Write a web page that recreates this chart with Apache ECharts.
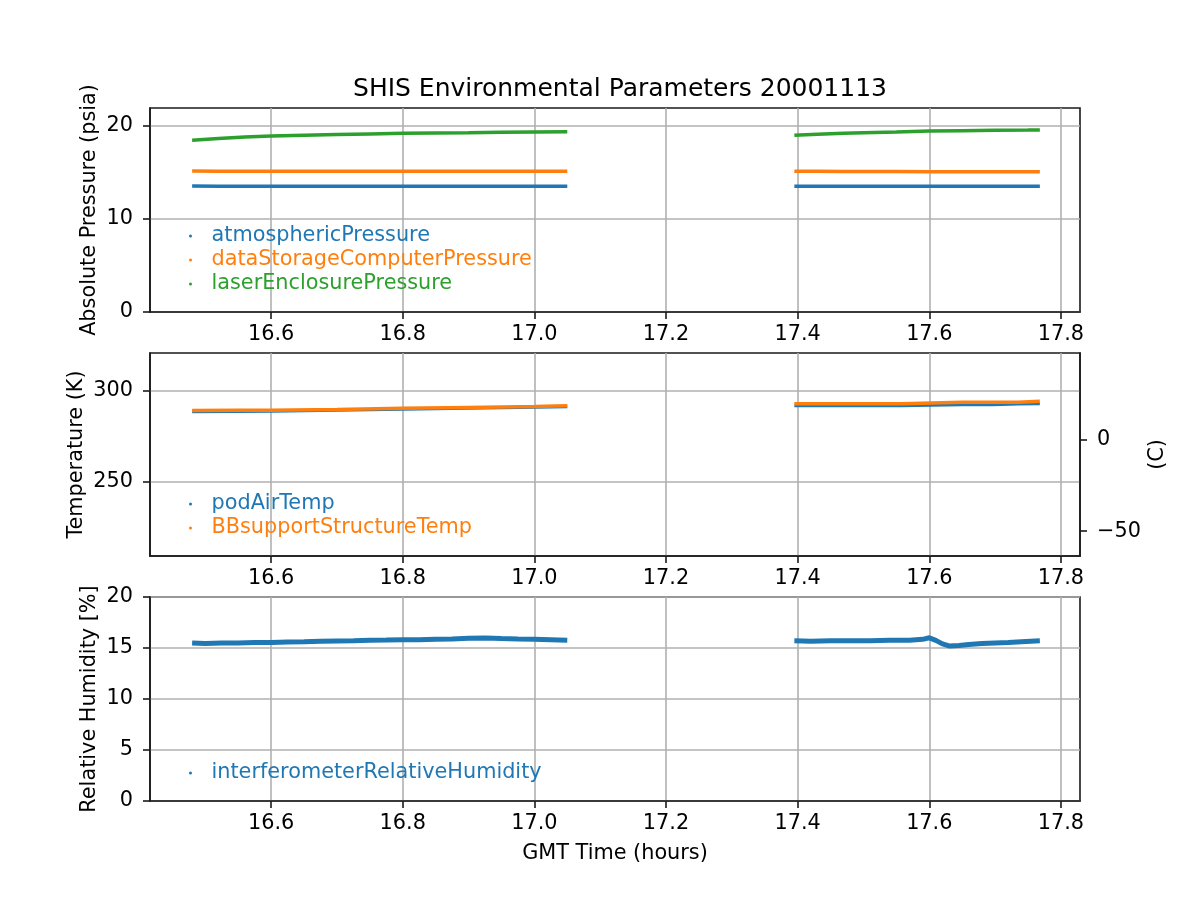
<!DOCTYPE html>
<html>
<head>
<meta charset="utf-8">
<script src="https://cdn.jsdelivr.net/npm/echarts@6/dist/echarts.min.js"></script>
<style>html,body{margin:0;padding:0;background:#fff;}#c{width:1200px;height:900px;}</style>
</head>
<body>
<div id="c"></div>
<script>
// ---- data ----
const xTicks = [16.6, 16.8, 17.0, 17.2, 17.4, 17.6, 17.8];
const pressureTicks = [0, 10, 20];
const tempTicksK = [250, 300];
const tempTicksC = [-50, 0];
const humidityTicks = [0, 5, 10, 15, 20];

const pTime1 = [16.48, 16.52, 16.56, 16.6, 16.65, 16.7, 16.75, 16.8, 16.85, 16.9, 16.95, 17.0, 17.05];
const atmospheric1 = [13.52, 13.5, 13.5, 13.5, 13.5, 13.5, 13.5, 13.5, 13.5, 13.5, 13.5, 13.5, 13.5];
const dataStorage1 = [15.15, 15.12, 15.1, 15.1, 15.1, 15.1, 15.1, 15.1, 15.1, 15.1, 15.1, 15.1, 15.1];
const laser1 = [18.45, 18.62, 18.78, 18.9, 18.98, 19.05, 19.12, 19.18, 19.22, 19.25, 19.29, 19.32, 19.35];
const pTime2 = [17.395, 17.43, 17.47, 17.5, 17.55, 17.6, 17.65, 17.7, 17.75, 17.768];
const atmospheric2 = [13.5, 13.5, 13.5, 13.5, 13.5, 13.5, 13.5, 13.5, 13.5, 13.5];
const dataStorage2 = [15.1, 15.1, 15.08, 15.08, 15.08, 15.05, 15.05, 15.05, 15.05, 15.05];
const laser2 = [18.97, 19.08, 19.18, 19.25, 19.33, 19.43, 19.47, 19.5, 19.53, 19.55];

const tTime1 = [16.48, 16.55, 16.6, 16.7, 16.8, 16.9, 17.0, 17.05];
const podAir1 = [288.4, 288.5, 288.6, 289.2, 289.7, 290.3, 290.8, 291.0];
const bbSupport1 = [289.0, 289.1, 289.1, 289.6, 290.2, 290.7, 291.2, 291.6];
const tTime2 = [17.395, 17.5, 17.557, 17.558, 17.65, 17.696, 17.697, 17.735, 17.736, 17.768];
const podAir2 = [291.6, 291.6, 291.6, 292.2, 292.2, 292.2, 292.5, 292.5, 292.7, 292.7];
const bbSupport2 = [292.7, 292.7, 292.7, 293.5, 293.5, 293.5, 293.5, 293.5, 294.0, 294.0];

const hTime1 = [16.48, 16.5, 16.525, 16.55, 16.575, 16.6, 16.625, 16.65, 16.675, 16.7, 16.725, 16.75, 16.775, 16.8, 16.825, 16.85, 16.875, 16.9, 16.925, 16.95, 16.975, 17.0, 17.025, 17.05];
const humidity1 = [15.5, 15.45, 15.5, 15.48, 15.55, 15.55, 15.6, 15.62, 15.65, 15.68, 15.7, 15.75, 15.78, 15.82, 15.8, 15.85, 15.88, 15.95, 15.98, 15.92, 15.88, 15.85, 15.8, 15.75];
const hTime2 = [17.395, 17.42, 17.45, 17.48, 17.51, 17.54, 17.57, 17.59, 17.6, 17.61, 17.62, 17.63, 17.645, 17.66, 17.68, 17.7, 17.72, 17.74, 17.768];
const humidity2 = [15.7, 15.65, 15.7, 15.72, 15.7, 15.75, 15.75, 15.85, 16.0, 15.75, 15.4, 15.2, 15.25, 15.35, 15.45, 15.5, 15.55, 15.62, 15.7];

// ---- chart ----
const FONT = 'DejaVu Sans';
const FS = 20.8;
const C1 = '#1f77b4', C2 = '#ff7f0e', C3 = '#2ca02c';
const zip = (a, b) => a.map((v, i) => [v, b[i]]);
const fmt = v => String(v).replace('-', '\u2212');
const xMin = 16.416, xMax = 17.829;
const AX = { color: '#1a1a1a', width: 1.6 };

function xAxis(grid, withName) {
  return {
    type: 'value', gridIndex: grid, min: xMin, max: xMax,
    axisLine: { show: true, onZero: false, lineStyle: AX },
    axisTick: { show: true, customValues: xTicks, length: 7, lineStyle: AX },
    axisLabel: { customValues: xTicks, formatter: v => v.toFixed(1), color: '#000', fontSize: FS, fontFamily: FONT, margin: 12 },
    splitLine: { show: true, customValues: xTicks, lineStyle: { color: '#b0b0b0', width: 1.6 } },
    name: withName ? 'GMT Time (hours)' : '',
    nameLocation: 'middle', nameGap: 42, nameMoveOverlap: false,
    nameTextStyle: { color: '#000', fontSize: FS, fontFamily: FONT }
  };
}
function yAxis(grid, min, max, ticks, name, gap, pos, showSplit) {
  return {
    type: 'value', gridIndex: grid, min: min, max: max, position: pos || 'left',
    axisLine: { show: true, onZero: false, lineStyle: AX },
    axisTick: { show: true, customValues: ticks, length: 7, lineStyle: AX },
    axisLabel: { customValues: ticks, formatter: fmt, color: '#000', fontSize: FS, fontFamily: FONT, margin: 17 },
    splitLine: { show: showSplit !== false, customValues: ticks, lineStyle: { color: '#b0b0b0', width: 1.6 } },
    name: name, nameLocation: 'middle', nameGap: gap, nameMoveOverlap: false,
    nameTextStyle: { color: '#000', fontSize: FS, fontFamily: FONT }
  };
}
function line(name, color, data, xi, yi, w) {
  return {
    type: 'line', name: name, xAxisIndex: xi, yAxisIndex: yi, data: data,
    showSymbol: false, symbol: 'circle', color: color, animation: false,
    lineStyle: { color: color, width: w }, silent: true
  };
}
function legend(names, colors, top) {
  return {
    orient: 'vertical', left: 184, top: top, icon: 'circle', itemWidth: 32, itemHeight: 3,
    itemGap: 0, symbolKeepAspect: true,
    textStyle: { fontSize: FS, fontFamily: FONT, lineHeight: 24 },
    data: names.map((n, i) => ({ name: n, textStyle: { color: colors[i] } }))
  };
}

const chart = echarts.init(document.getElementById('c'), null, { renderer: 'canvas' });
chart.setOption({
  backgroundColor: '#fff',
  animation: false,
  title: {
    text: 'SHIS Environmental Parameters 20001113', left: 615, top: 72, textAlign: 'center',
    textStyle: { fontSize: 25, fontWeight: 'normal', color: '#000', fontFamily: FONT }
  },
  grid: [
    { left: 150, right: 120, top: 108, height: 204, show: true, borderColor: '#1a1a1a', borderWidth: 1.6, backgroundColor: 'transparent' },
    { left: 150, right: 120, top: 353, height: 203, show: true, borderColor: '#1a1a1a', borderWidth: 1.6, backgroundColor: 'transparent' },
    { left: 150, right: 120, top: 597, height: 204, show: true, borderColor: '#1a1a1a', borderWidth: 1.6, backgroundColor: 'transparent' }
  ],
  legend: [
    legend(['atmosphericPressure', 'dataStorageComputerPressure', 'laserEnclosurePressure'], [C1, C2, C3], 219),
    legend(['podAirTemp', 'BBsupportStructureTemp'], [C1, C2], 487),
    legend(['interferometerRelativeHumidity'], [C1], 756)
  ],
  xAxis: [xAxis(0, false), xAxis(1, false), xAxis(2, true)],
  yAxis: [
    yAxis(0, 0, 21.9, pressureTicks, 'Absolute Pressure (psia)', 50),
    yAxis(1, 209.6, 320.4, tempTicksK, 'Temperature (K)', 63),
    yAxis(1, 209.6 - 273.15, 320.4 - 273.15, tempTicksC, '(C)', 67, 'right', false),
    yAxis(2, 0, 20, humidityTicks, 'Relative Humidity [%]', 50)
  ],
  series: [
    line('atmosphericPressure', C1, zip(pTime1, atmospheric1), 0, 0, 3.5),
    line('atmosphericPressure', C1, zip(pTime2, atmospheric2), 0, 0, 3.5),
    line('dataStorageComputerPressure', C2, zip(pTime1, dataStorage1), 0, 0, 3.5),
    line('dataStorageComputerPressure', C2, zip(pTime2, dataStorage2), 0, 0, 3.5),
    line('laserEnclosurePressure', C3, zip(pTime1, laser1), 0, 0, 3.5),
    line('laserEnclosurePressure', C3, zip(pTime2, laser2), 0, 0, 3.5),
    line('podAirTemp', C1, zip(tTime1, podAir1), 1, 1, 3),
    line('podAirTemp', C1, zip(tTime2, podAir2), 1, 1, 3),
    line('BBsupportStructureTemp', C2, zip(tTime1, bbSupport1), 1, 1, 3.5),
    line('BBsupportStructureTemp', C2, zip(tTime2, bbSupport2), 1, 1, 3.5),
    line('interferometerRelativeHumidity', C1, zip(hTime1, humidity1), 2, 3, 5),
    line('interferometerRelativeHumidity', C1, zip(hTime2, humidity2), 2, 3, 5)
  ]
});
</script>
</body>
</html>
